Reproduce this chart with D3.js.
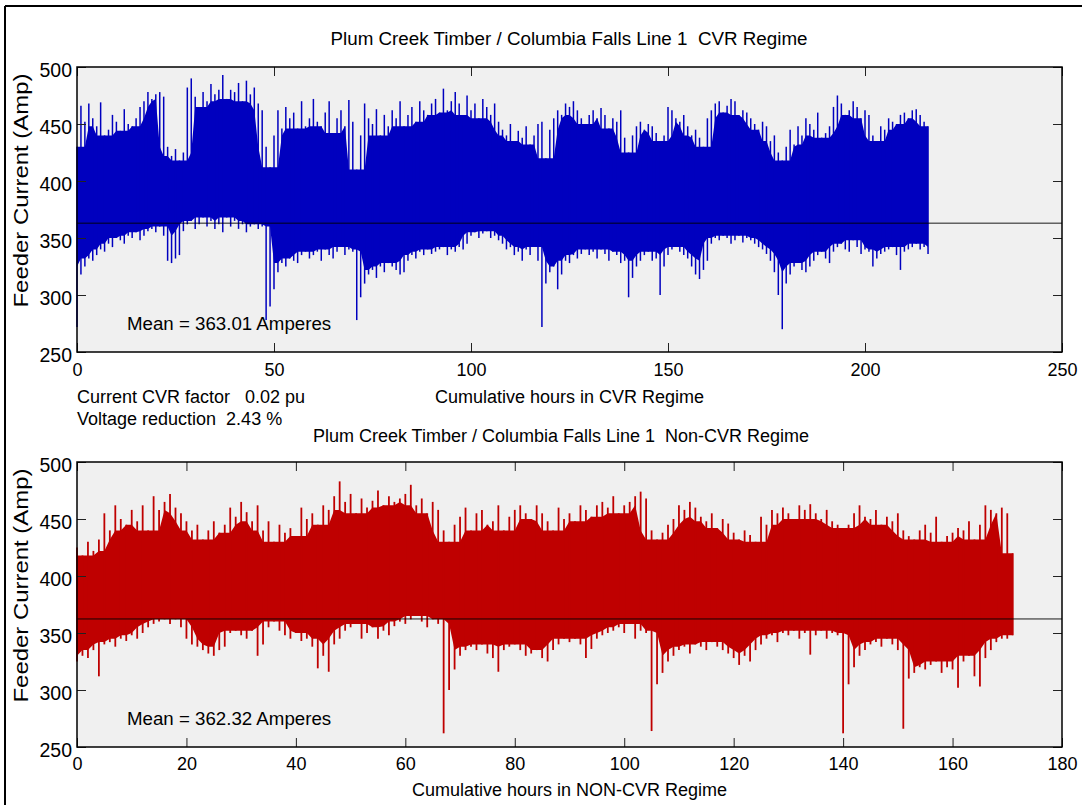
<!DOCTYPE html>
<html>
<head>
<meta charset="utf-8">
<script src="https://cdn.jsdelivr.net/npm/d3@7"></script>
<style>
body { margin: 0; background: #fff; }
text { font-family: "Liberation Sans", Arial, Helvetica, sans-serif; fill: #000; white-space: pre; }
</style>
</head>
<body>
<svg id="fig" width="1082" height="805"></svg>
<script>
// hourly peaks / troughs (hour 0..216)
var cvrHigh = [
  430, 466, 452, 468, 455, 448, 469, 440, 445, 458,
  452, 444, 463, 450, 448, 455, 465, 470, 478, 472,
  476, 478, 474, 430, 422, 428, 418, 425, 482, 490,
  474, 465, 478, 470, 485, 476, 480, 493, 472, 480,
  478, 486, 470, 488, 476, 482, 468, 462, 430, 412,
  440, 462, 446, 465, 455, 460, 446, 470, 448, 455,
  472, 452, 448, 460, 470, 442, 455, 462, 448, 471,
  452, 410, 440, 468, 455, 450, 463, 440, 458, 448,
  462, 455, 470, 448, 458, 465, 452, 470, 462, 458,
  468, 472, 460, 481, 462, 470, 478, 468, 458, 475,
  462, 468, 455, 472, 465, 458, 468, 452, 445, 440,
  450, 435, 444, 438, 448, 432, 440, 450, 452, 420,
  445, 455, 462, 458, 468, 465, 470, 462, 455, 450,
  458, 462, 455, 464, 458, 446, 455, 452, 462, 438,
  425, 440, 448, 452, 445, 450, 448, 442, 435, 440,
  465, 462, 455, 452, 458, 448, 440, 445, 438, 430,
  455, 462, 468, 470, 460, 466, 472, 470, 458, 462,
  460, 455, 450, 445, 452, 448, 435, 440, 425, 418,
  430, 445, 432, 448, 440, 455, 450, 445, 460, 438,
  442, 448, 465, 475, 468, 458, 462, 470, 465, 455,
  462, 458, 440, 435, 448, 445, 455, 452, 450, 458,
  460, 455, 462, 463, 458, 452, 448
];
var cvrLow = [
  272, 318, 325, 332, 330, 335, 340, 338, 345, 342,
  350, 348, 345, 352, 350, 355, 348, 352, 356, 358,
  355, 360, 352, 330, 328, 332, 335, 356, 362, 365,
  358, 362, 368, 360, 365, 358, 362, 355, 368, 360,
  365, 358, 362, 355, 360, 362, 358, 360, 278, 290,
  305, 320, 328, 325, 332, 330, 328, 335, 338, 332,
  335, 338, 330, 340, 335, 332, 338, 342, 335, 340,
  338, 278, 298, 310, 318, 322, 315, 325, 320, 328,
  325, 322, 318, 320, 330, 335, 332, 338, 335, 340,
  336, 338, 340, 342, 335, 340, 338, 342, 340, 345,
  352, 355, 350, 354, 356, 350, 352, 348, 345, 340,
  342, 335, 338, 330, 340, 335, 342, 330, 272, 310,
  320, 325, 305, 318, 330, 328, 335, 332, 336, 340,
  335, 338, 332, 340, 336, 330, 338, 335, 328, 330,
  298, 315, 325, 330, 335, 338, 330, 332, 300, 325,
  335, 340, 342, 338, 335, 332, 325, 318, 314, 322,
  330, 345, 350, 348, 352, 350, 345, 348, 352, 346,
  350, 348, 345, 342, 340, 336, 330, 320, 300, 270,
  310, 318, 325, 328, 322, 320, 325, 330, 335, 338,
  332, 328, 338, 342, 345, 340, 338, 348, 342, 336,
  340, 338, 325, 332, 336, 338, 340, 342, 335, 322,
  338, 340, 342, 345, 340, 342, 336
];

// hourly peaks / troughs (hour 0..171)
var nonCvrHigh = [
  425, 418, 430, 422, 432, 455, 440, 462, 450, 445,
  458, 448, 462, 440, 470, 458, 465, 472, 460, 455,
  448, 440, 445, 432, 440, 448, 438, 445, 460, 452,
  465, 456, 448, 462, 440, 448, 430, 445, 438, 442,
  435, 460, 450, 455, 445, 462, 458, 470, 483, 465,
  472, 455, 468, 460, 466, 475, 462, 470, 465, 468,
  472, 480, 462, 468, 455, 465, 458, 440, 430, 445,
  452, 460, 440, 455, 458, 445, 448, 462, 440, 452,
  458, 462, 455, 450, 462, 455, 448, 440, 460, 450,
  455, 448, 462, 458, 452, 462, 465, 460, 470, 455,
  462, 465, 470, 474, 468, 440, 432, 438, 445, 450,
  462, 458, 465, 460, 452, 448, 455, 442, 450, 446,
  438, 432, 440, 436, 430, 452, 445, 458, 455, 460,
  455, 450, 462, 458, 463, 455, 450, 458, 448, 445,
  442, 445, 455, 462, 452, 450, 458, 445, 452, 448,
  455, 440, 435, 432, 440, 445, 438, 452, 430, 435,
  438, 442, 440, 448, 432, 445, 462, 458, 455, 460,
  455, 420
];
var nonCvrLow = [
  325, 330, 328, 335, 312, 340, 342, 338, 345, 343,
  348, 345, 350, 355, 358, 360, 362, 358, 362, 355,
  345, 340, 338, 335, 332, 330, 335, 338, 350, 352,
  348, 345, 352, 330, 340, 355, 360, 352, 348, 345,
  350, 343, 345, 338, 319, 330, 316, 340, 345, 352,
  355, 358, 345, 350, 355, 345, 352, 348, 356, 360,
  358, 362, 365, 360, 355, 362, 358, 262, 300, 318,
  330, 335, 338, 335, 340, 332, 328, 316, 335, 338,
  340, 335, 330, 332, 335, 328, 325, 335, 340, 345,
  342, 345, 340, 328, 336, 345, 348, 350, 352, 355,
  350, 358, 345, 352, 350, 264, 305, 315, 325, 330,
  335, 338, 332, 340, 338, 335, 342, 338, 335, 332,
  328, 322, 330, 325, 335, 340, 345, 348, 342, 350,
  348, 352, 345, 350, 331, 348, 352, 345, 350, 348,
  262, 305, 320, 330, 335, 340, 342, 338, 345, 340,
  335, 266, 310, 315, 320, 318, 322, 325, 315, 320,
  318, 302, 325, 330, 312, 303, 328, 335, 342, 345,
  345, 348
];

var cvrMean = 363.01;
var nonCvrMean = 362.32;
var cvrHourTicks = [0, 50, 100, 150, 200, 250];
var nonCvrHourTicks = [0, 20, 40, 60, 80, 100, 120, 140, 160, 180];
var ampTicks = [250, 300, 350, 400, 450, 500];

var svg = d3.select("#fig");
var plotLeft = 77, plotRight = 1062;

// outer figure edge (cut off at right / bottom)
svg.append("line").attr("x1", 5).attr("y1", 6).attr("x2", 1082).attr("y2", 6)
   .attr("stroke", "#000").attr("stroke-width", 2);
svg.append("line").attr("x1", 5).attr("y1", 6).attr("x2", 5).attr("y2", 805)
   .attr("stroke", "#000").attr("stroke-width", 2);

// solid body of the trace: the range every hour within +-2 reaches
function solidBody(high, low) {
    var n = high.length;
    return high.map(function(v, i) {
        var hi = v, lo = low[i];
        for (var k = Math.max(0, i - 2); k <= Math.min(n - 1, i + 2); k++) {
            hi = Math.min(hi, high[k]);
            lo = Math.max(lo, low[k]);
        }
        return [i, lo, hi];
    });
}

function drawPanel(p) {
    var x = d3.scaleLinear().domain(p.xDomain).range([plotLeft, plotRight]);
    var y = d3.scaleLinear().domain([250, 500]).range([p.bottom, p.top]);
    var g = svg.append("g");

    g.append("rect")
     .attr("x", plotLeft).attr("y", p.top)
     .attr("width", plotRight - plotLeft).attr("height", p.bottom - p.top)
     .attr("fill", "#f0f0f0");

    var area = d3.area()
        .x(function(d) { return x(d[0]); })
        .y0(function(d) { return y(d[1]); })
        .y1(function(d) { return y(d[2]); });
    g.append("path")
     .datum(solidBody(p.high, p.low))
     .attr("d", area)
     .attr("fill", p.color);

    // full hourly swing, peak to trough
    g.selectAll("line.swing")
     .data(p.high)
     .join("line")
     .attr("class", "swing")
     .attr("x1", function(d, i) { return x(i); })
     .attr("x2", function(d, i) { return x(i); })
     .attr("y1", function(d) { return y(d); })
     .attr("y2", function(d, i) { return y(p.low[i]); })
     .attr("stroke", p.color)
     .attr("stroke-width", p.lineWidth);

    g.append("line")
     .attr("x1", plotLeft).attr("x2", plotRight)
     .attr("y1", y(p.mean)).attr("y2", y(p.mean))
     .attr("stroke", "#000").attr("stroke-width", 0.9);

    // ticks point inwards on all four sides, labels only bottom / left
    var bottomAx = g.append("g").attr("transform", "translate(0," + p.bottom + ")")
        .call(d3.axisBottom(x).tickValues(p.xTicks).tickSize(-9).tickFormat(d3.format("d")));
    bottomAx.selectAll("text").attr("dy", null).attr("y", p.xLabelDy).attr("font-size", 18);
    g.append("g").attr("transform", "translate(0," + p.top + ")")
        .call(d3.axisTop(x).tickValues(p.xTicks).tickSize(-9).tickFormat(""));
    var leftAx = g.append("g").attr("transform", "translate(" + plotLeft + ",0)")
        .call(d3.axisLeft(y).tickValues(ampTicks).tickSize(-9).tickPadding(5).tickFormat(d3.format("d")));
    leftAx.selectAll("text").attr("dy", "0.48em").attr("font-size", 19.5);
    g.append("g").attr("transform", "translate(" + plotRight + ",0)")
        .call(d3.axisRight(y).tickValues(ampTicks).tickSize(-9).tickFormat(""));

    g.selectAll(".domain").remove();
    g.selectAll(".tick line").attr("stroke", "#222").attr("stroke-width", 1);
    g.selectAll(".tick text").attr("font-family", null).attr("fill", "#000");

    g.append("rect")
     .attr("x", plotLeft).attr("y", p.top)
     .attr("width", plotRight - plotLeft).attr("height", p.bottom - p.top)
     .attr("fill", "none").attr("stroke", "#000").attr("stroke-width", 1.5);

    g.append("text")
     .attr("x", p.titleX).attr("y", p.titleY)
     .attr("text-anchor", "middle").attr("font-size", p.titleSize)
     .text(p.title);

    g.append("text")
     .attr("x", 127).attr("y", p.meanTextY)
     .attr("font-size", 18.7)
     .text("Mean = " + p.mean.toFixed(2) + " Amperes");

    g.append("text")
     .attr("x", (plotLeft + plotRight) / 2).attr("y", p.xTitleY)
     .attr("text-anchor", "middle").attr("font-size", 18)
     .text(p.xTitle);

    g.append("text")
     .attr("transform", "translate(28," + ((p.top + p.bottom) / 2 - 19) + ") rotate(-90)")
     .attr("text-anchor", "middle").attr("font-size", 20.5)
     .attr("textLength", 234).attr("lengthAdjust", "spacingAndGlyphs")
     .text("Feeder Current (Amp)");
}

drawPanel({
    top: 67, bottom: 352,
    xDomain: [0, 250], xTicks: cvrHourTicks, xLabelDy: 24,
    high: cvrHigh, low: cvrLow, mean: cvrMean,
    color: "#0000bf", lineWidth: 1.5, meanTextY: 330,
    title: "Plum Creek Timber / Columbia Falls Line 1  CVR Regime",
    titleX: 569, titleY: 45, titleSize: 18.8,
    xTitle: "Cumulative hours in CVR Regime", xTitleY: 403
});

drawPanel({
    top: 462, bottom: 747,
    xDomain: [0, 180], xTicks: nonCvrHourTicks, xLabelDy: 23,
    high: nonCvrHigh, low: nonCvrLow, mean: nonCvrMean,
    color: "#bf0000", lineWidth: 1.8, meanTextY: 725,
    title: "Plum Creek Timber / Columbia Falls Line 1  Non-CVR Regime",
    titleX: 561, titleY: 442, titleSize: 18,
    xTitle: "Cumulative hours in NON-CVR Regime", xTitleY: 796
});

svg.append("text").attr("x", 77).attr("y", 403).attr("font-size", 18)
   .text("Current CVR factor   0.02 pu");
svg.append("text").attr("x", 77).attr("y", 425).attr("font-size", 18)
   .text("Voltage reduction  2.43 %");
</script>
</body>
</html>
